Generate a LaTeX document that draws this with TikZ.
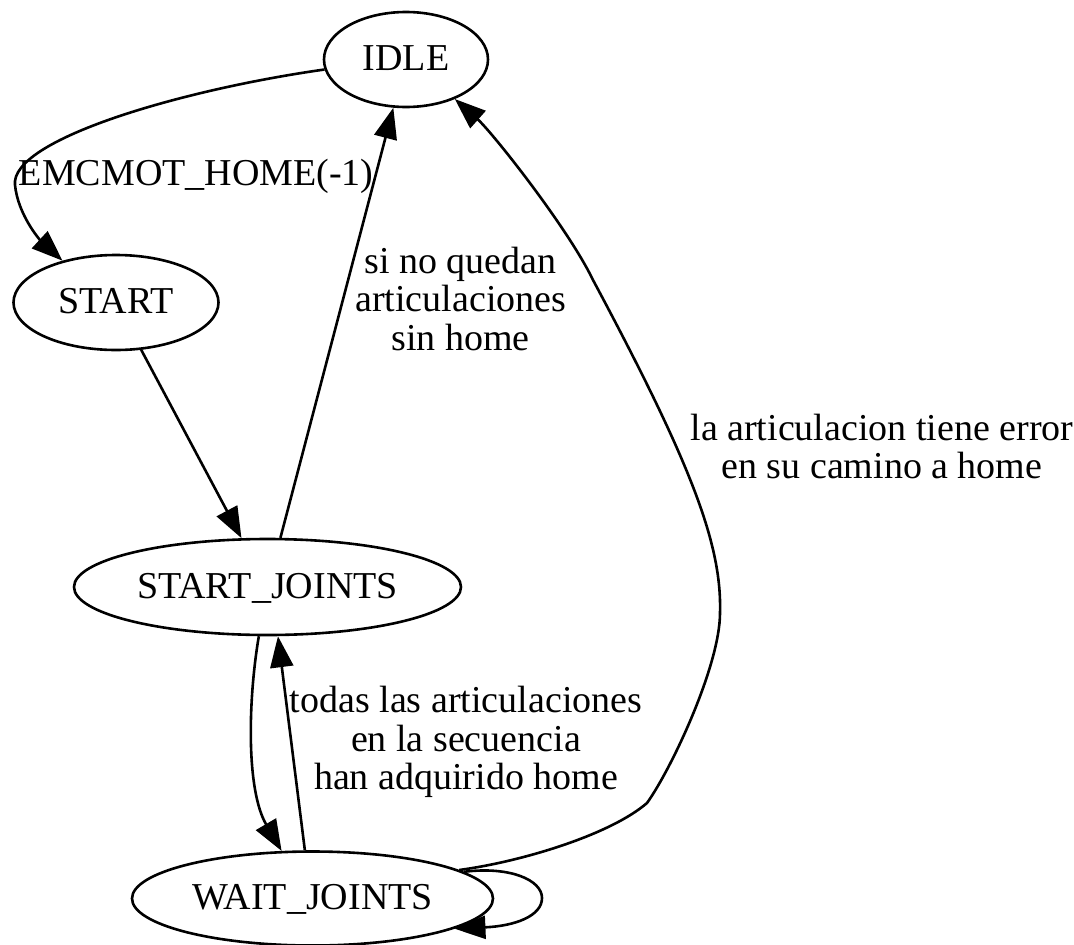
\documentclass[tikz,border=0pt]{standalone}
\usepackage{fontspec}
\setmainfont{Liberation Serif}
\usetikzlibrary{arrows.meta,shapes.geometric}
\newcommand\lbltext[1]{\vtop{\halign{\hfil##\hfil\cr#1\crcr}}}
\begin{document}
\begin{tikzpicture}[x=1pt,y=-1pt,
  state/.style={draw, ellipse, line width=2.6pt, inner sep=0pt, text height=25pt, text depth=3pt, font=\fontsize{38}{38.5}\selectfont},
  edge/.style={draw, line width=2.6pt, -{Triangle[length=31pt,width=23pt]}},
  lbl/.style={inner sep=0pt, anchor=base, font=\fontsize{38}{38.5}\selectfont}]
\useasboundingbox (0,0) rectangle (1074,945);
\node[state, minimum width=164pt, minimum height=95pt] (idle) at (406,59.5) {IDLE};
\node[state, minimum width=205pt, minimum height=95pt] (start) at (116,302.5) {START};
\node[state, minimum width=387pt, minimum height=96pt] (sj) at (267.5,587) {START\_JOINTS};
\node[state, minimum width=361pt, minimum height=94pt] (wj) at (312.5,898.5) {WAIT\_JOINTS};

\draw[edge] (idle.187) .. controls (180,90) and (10,140) .. (15,185) .. controls (18,215) and (40,240) .. (start.142);
\draw[edge] (start) -- (sj);
\draw[edge] (sj) -- (idle);
\draw[edge] (sj.260) .. controls (248,700) and (246,790) .. (wj.123);
\draw[edge] (wj.99) -- (sj.282);
\draw[edge] (wj.11) .. controls (520,862) and (610,835) .. (647,803) .. controls (672,768) and (720,665) .. (720,613) .. controls (722,545) and (692,465) .. (593,280) .. controls (568,228) and (492,132) .. (idle.321);
\draw[edge] (wj.10) .. controls (510,866) and (542,880) .. (542,898) .. controls (542,916) and (515,926) .. (wj.348);

\node[lbl] (l1) at (196.3,185) {EMCMOT\_HOME(-1)};
\node[lbl] (l2) at (460.7,273.3) {\lbltext{si no quedan\cr articulaciones\cr sin home}};
\node[lbl] (l3) at (882,440) {\lbltext{la articulacion tiene error\cr en su camino a home}};
\node[lbl] (l4) at (466,712.7) {\lbltext{todas las articulaciones\cr en la secuencia\cr han adquirido home}};
\end{tikzpicture}
\end{document}
